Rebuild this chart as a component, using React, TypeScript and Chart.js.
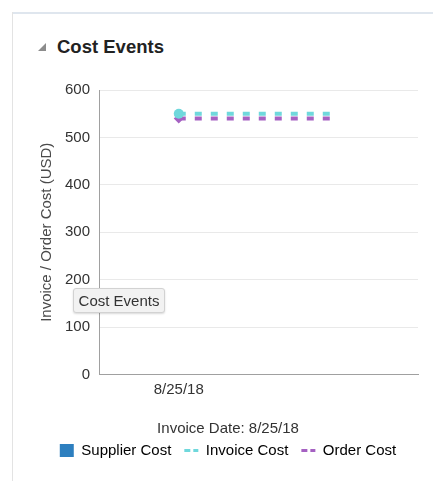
import React, { useEffect, useRef } from 'react';
import { Chart, registerables } from 'chart.js';

Chart.register(...registerables);

const categories: string[] = ['', '8/25/18', '', '', ''];
const supplierCost: (number | null)[] = [null, null, null, null, null];
const invoiceCost: (number | null)[] = [null, 550, 550, 550, null];
const orderCost: (number | null)[] = [null, 540, 540, 540, null];
const seriesNames = ['Supplier Cost', 'Invoice Cost', 'Order Cost'];
const seriesColors = ['#2d7fbf', '#6fd8dc', '#a561c2'];
const yMin = 0;
const yMax = 600;
const yStep = 100;
const xTitle = 'Invoice Date: 8/25/18';
const yTitle = 'Invoice / Order Cost (USD)';
const panelTitle = 'Cost Events';
const tooltipText = 'Cost Events';

const FONT = "'Liberation Sans', Arial, Helvetica, sans-serif";

export default function App() {
  const ref = useRef<HTMLCanvasElement | null>(null);

  useEffect(() => {
    if (!ref.current) return;
    const markerRadius = (i: number) => (i === 1 ? 5 : 0);
    const chart = new Chart(ref.current, {
      type: 'line',
      data: {
        labels: categories,
        datasets: [
          {
            label: seriesNames[0],
            data: supplierCost,
            borderColor: seriesColors[0],
            backgroundColor: seriesColors[0],
            pointRadius: 0,
          },
          {
            label: seriesNames[1],
            data: invoiceCost,
            borderColor: seriesColors[1],
            backgroundColor: seriesColors[1],
            borderWidth: 4,
            borderDash: [7, 9],
            pointStyle: 'circle',
            pointRadius: invoiceCost.map((_, i) => markerRadius(i)),
            pointBorderWidth: 0,
          },
          {
            label: seriesNames[2],
            data: orderCost,
            borderColor: seriesColors[2],
            backgroundColor: seriesColors[2],
            borderWidth: 4,
            borderDash: [7, 9],
            pointStyle: 'rectRot',
            pointRadius: orderCost.map((_, i) => markerRadius(i)),
            pointBorderWidth: 0,
          },
        ],
      },
      options: {
        responsive: false,
        animation: false,
        devicePixelRatio: 1,
        events: [],
        layout: { padding: { left: 38, right: 15, top: 90, bottom: 13 } },
        scales: {
          x: {
            type: 'category',
            offset: false,
            grid: { display: false, drawTicks: false },
            border: { display: true, color: '#a0a0a0', width: 1 },
            ticks: {
              autoSkip: false,
              maxRotation: 0,
              padding: 6,
              color: '#333333',
              font: { family: FONT, size: 15 },
            },
          },
          y: {
            min: yMin,
            max: yMax,
            grid: { color: '#e9e9e9', drawTicks: false },
            border: { display: true, color: '#a0a0a0', width: 1 },
            ticks: {
              stepSize: yStep,
              padding: 9,
              color: '#333333',
              font: { family: FONT, size: 15 },
            },
            title: {
              display: true,
              text: yTitle,
              color: '#4a4a4a',
              padding: { top: 0, bottom: 0 },
              font: { family: FONT, size: 15 },
            },
          },
        },
        plugins: {
          tooltip: { enabled: false },
          title: {
            display: true,
            position: 'bottom',
            text: xTitle,
            weight: 500,
            color: '#333333',
            padding: { top: 15, bottom: -7.5 },
            font: { family: FONT, size: 15, weight: 'normal' },
          },
          legend: {
            display: true,
            position: 'bottom',
            weight: 1000,
            labels: {
              usePointStyle: true,
              pointStyleWidth: 14,
              boxHeight: 13,
              padding: 13,
              color: '#333333',
              font: { family: FONT, size: 15 },
              generateLabels: (c: any) =>
                c.data.datasets.map((ds: any, i: number) =>
                  i === 0
                    ? {
                        text: ds.label,
                        fillStyle: ds.backgroundColor,
                        strokeStyle: ds.backgroundColor,
                        lineWidth: 0,
                        pointStyle: 'rect',
                        hidden: false,
                        datasetIndex: i,
                      }
                    : {
                        text: ds.label,
                        fillStyle: 'rgba(0,0,0,0)',
                        strokeStyle: ds.borderColor,
                        lineWidth: 3,
                        lineDash: [6, 3],
                        pointStyle: 'line',
                        hidden: false,
                        datasetIndex: i,
                      }
                ),
            },
          },
        },
      },
    } as any);
    return () => chart.destroy();
  }, []);

  return (
    <div
      style={{
        position: 'fixed',
        left: 0,
        top: 0,
        width: 433,
        height: 481,
        background: '#ffffff',
        overflow: 'hidden',
        fontFamily: FONT,
      }}
    >
      <div
        style={{
          position: 'absolute',
          left: 12,
          top: 12,
          right: 0,
          height: 2,
          background: '#dfe6ee',
        }}
      />
      <div
        style={{
          position: 'absolute',
          left: 12,
          top: 12,
          width: 1,
          bottom: 0,
          background: '#e3e3e3',
        }}
      />
      <div
        style={{
          position: 'absolute',
          left: 38,
          top: 43,
          width: 0,
          height: 0,
          borderLeft: '8px solid transparent',
          borderBottom: '8px solid #8c8c8c',
        }}
      />
      <div
        style={{
          position: 'absolute',
          left: 57,
          top: 36,
          fontSize: 18.5,
          lineHeight: '22px',
          fontWeight: 'bold',
          color: '#222222',
        }}
      >
        {panelTitle}
      </div>
      <canvas
        ref={ref}
        width={433}
        height={481}
        style={{ position: 'absolute', left: 0, top: 0, width: 433, height: 481 }}
      />
      <div
        style={{
          position: 'absolute',
          left: 73,
          top: 288,
          width: 92,
          height: 25,
          boxSizing: 'border-box',
          background: '#f2f2f2',
          border: '1px solid #d2d2d2',
          borderRadius: 3,
          boxShadow: '0 1px 2px rgba(0,0,0,0.15)',
          fontSize: 15,
          lineHeight: '23px',
          color: '#333333',
          textAlign: 'center',
          whiteSpace: 'nowrap',
        }}
      >
        {tooltipText}
      </div>
    </div>
  );
}
